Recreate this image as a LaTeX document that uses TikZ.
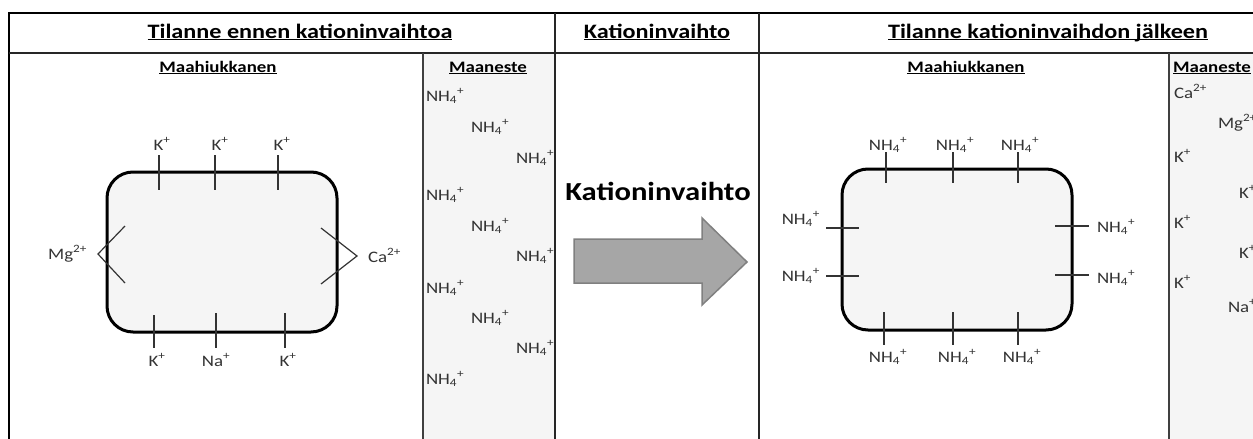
\documentclass[tikz,border=0pt]{standalone}
\usepackage{fontspec}
\setmainfont{Carlito}[FakeStretch=1.18]
\newcommand\nhf{NH\textsubscript{4}\textsuperscript{+}}
\newcommand\ulx[1]{\underline{\smash{#1}}}
\begin{document}
\begin{tikzpicture}[x=1pt,y=-1pt,
  every node/.style={inner sep=0pt,outer sep=0pt},
  hdr/.style={font=\fontsize{20.5}{24}\selectfont\bfseries,anchor=base},
  subhdr/.style={font=\fontsize{16}{19}\selectfont\bfseries,anchor=base},
  ion/.style={font=\fontsize{16}{19}\selectfont,text=black!80,anchor=base},
  ionw/.style={ion,anchor=base west},
  ione/.style={ion,anchor=base east},
  bigtext/.style={font=\fontsize{26}{30}\selectfont\bfseries,anchor=base},
  outer/.style={line width=2pt,draw=black},
  grid/.style={line width=1.4pt,draw=black!85},
  thin/.style={line width=1.1pt,draw=black!75},
  particle/.style={draw=black,line width=3pt,fill=black!4,rounded corners=26pt,
    minimum width=230pt},
  tick/.style={line width=1.2pt,draw=black!80},
  bigarrow/.style={fill=black!35,draw=black!50,line width=1.5pt,line join=miter}
]
\useasboundingbox (0,0) rectangle (1253,439);
% shaded Maaneste columns
\fill[black!4] (423,53) rectangle (555,439);
\fill[black!4] (1169,53) rectangle (1253,439);
% table
\draw[outer] (1253,13) -- (9,13) -- (9,439);
\draw[grid] (9,53) -- (1253,53);
\draw[grid] (555,13) -- (555,439);
\draw[grid] (759,13) -- (759,439);
\draw[thin] (423,53) -- (423,439);
\draw[thin] (1169,53) -- (1169,439);
% headers
\node[hdr] (h1) at (300,38) {\ulx{Tilanne ennen kationinvaihtoa}};
\node[hdr] (h2) at (657,38) {\ulx{Kationinvaihto}};
\node[hdr] (h3) at (1048,38) {\ulx{Tilanne kationinvaihdon jälkeen}};
\node[subhdr] (s1) at (218,72) {\ulx{Maahiukkanen}};
\node[subhdr] (s2) at (488,72) {\ulx{Maaneste}};
\node[subhdr] (s3) at (966,72) {\ulx{Maahiukkanen}};
\node[subhdr,anchor=base west] (s4) at (1173,72) {\ulx{Maaneste}};

% ---------- left particle ----------
\node[particle,minimum height=160pt] (p1) at (222,252) {};
\draw[tick] (159,155) -- (159,190);
\draw[tick] (215,155) -- (215,190);
\draw[tick] (278,155) -- (278,190);
\draw[tick] (154,315) -- (154,348);
\draw[tick] (216,313) -- (216,348);
\draw[tick] (285,313) -- (285,348);
\draw[tick] (125,226) -- (98,254) -- (125,283);
\draw[tick] (321,228) -- (357,256) -- (321,284);
\node[ion] (k1) at (162,150) {K\textsuperscript{+}};
\node[ion] (k2) at (220,150) {K\textsuperscript{+}};
\node[ion] (k3) at (282,150) {K\textsuperscript{+}};
\node[ion] (k4) at (157,366) {K\textsuperscript{+}};
\node[ion] (na1) at (216,366) {Na\textsuperscript{+}};
\node[ion] (k5) at (288,366) {K\textsuperscript{+}};
\node[ione] (mg1) at (87,259) {Mg\textsuperscript{2+}};
\node[ionw] (ca1) at (368,262) {Ca\textsuperscript{2+}};

% left Maaneste
\node[ionw] (a1) at (426,101) {\nhf};
\node[ionw] (a2) at (471,132) {\nhf};
\node[ionw] (a3) at (516,163) {\nhf};
\node[ionw] (a4) at (426,200) {\nhf};
\node[ionw] (a5) at (471,231) {\nhf};
\node[ionw] (a6) at (516,261) {\nhf};
\node[ionw] (a7) at (426,293) {\nhf};
\node[ionw] (a8) at (471,323) {\nhf};
\node[ionw] (a9) at (516,353) {\nhf};
\node[ionw] (a10) at (426,384) {\nhf};

% middle: arrow
\node[bigtext] (kt) at (658,200) {Kationinvaihto};
\draw[bigarrow] (574,239) -- (702,239) -- (702,218) -- (747,262) -- (702,305) -- (702,283) -- (574,283) -- cycle;

% ---------- right particle ----------
\node[particle,minimum height=161pt] (p2) at (957,249.5) {};
\draw[tick] (886,152) -- (886,183);
\draw[tick] (953,152) -- (953,183);
\draw[tick] (1018,152) -- (1018,183);
\draw[tick] (884,312) -- (884,345);
\draw[tick] (953,312) -- (953,345);
\draw[tick] (1018,312) -- (1018,345);
\draw[tick] (826,228) -- (859,228);
\draw[tick] (826,276) -- (859,276);
\draw[tick] (1055,226) -- (1089,226);
\draw[tick] (1055,275) -- (1089,275);
\node[ion] (n1) at (888,150) {\nhf};
\node[ion] (n2) at (955,150) {\nhf};
\node[ion] (n3) at (1020,150) {\nhf};
\node[ion] (n4) at (888,362) {\nhf};
\node[ion] (n5) at (957,362) {\nhf};
\node[ion] (n6) at (1022,362) {\nhf};
\node[ione] (n7) at (820,224) {\nhf};
\node[ione] (n8) at (820,281) {\nhf};
\node[ionw] (n9) at (1097,232) {\nhf};
\node[ionw] (n10) at (1097,283) {\nhf};

% right Maaneste
\node[ionw] (b1) at (1174,98) {Ca\textsuperscript{2+}};
\node[ionw] (b2) at (1218,128) {Mg\textsuperscript{2+}};
\node[ionw] (b3) at (1174,162) {K\textsuperscript{+}};
\node[ionw] (b4) at (1239,198) {K\textsuperscript{+}};
\node[ionw] (b5) at (1174,228) {K\textsuperscript{+}};
\node[ionw] (b6) at (1239,258) {K\textsuperscript{+}};
\node[ionw] (b7) at (1174,288) {K\textsuperscript{+}};
\node[ionw] (b8) at (1228,312) {Na\textsuperscript{+}};
\end{tikzpicture}
\end{document}
